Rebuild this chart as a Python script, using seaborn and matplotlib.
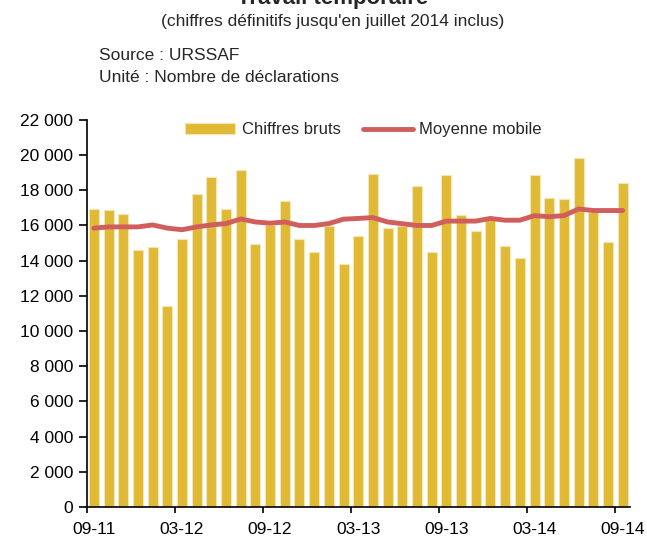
import numpy as np
import pandas as pd
import matplotlib
matplotlib.use('Agg')
import matplotlib.pyplot as plt
import seaborn as sns
from matplotlib.ticker import FuncFormatter, FixedLocator

# monthly data, 09-11 to 09-14
months = list(pd.period_range('2011-09', '2014-09', freq='M').strftime('%m-%y'))
bruts = [16950, 16880, 16680, 14600, 14790, 11450, 15240, 17770, 18770, 16950,
         19130, 14950, 16000, 17410, 15240, 14520, 15950, 13790, 15410, 18950,
         15880, 15950, 18220, 14500, 18860, 16600, 15700, 16300, 14860, 14150,
         18860, 17580, 17500, 19850, 16750, 15050, 18410]
moyenne = [15850, 15920, 15920, 15920, 16030, 15850, 15760, 15920, 16030, 16110,
           16370, 16200, 16130, 16200, 16000, 16000, 16110, 16360, 16400, 16450,
           16200, 16100, 16000, 16000, 16250, 16250, 16250, 16400, 16300, 16300,
           16560, 16500, 16560, 16940, 16850, 16850, 16850]

df = pd.DataFrame({'idx': range(len(months)), 'mois': months,
                   'bruts': bruts, 'moyenne': moyenne})

sns.set_theme(style='white')
plt.rcParams['font.family'] = ['Liberation Sans', 'DejaVu Sans']

fig = plt.figure(figsize=(6.47, 5.38), dpi=100)
ax = fig.add_axes([0.1337, 0.0576, 0.840, 0.7195])

sns.barplot(data=df, x='idx', y='bruts', color='#E0B935', saturation=1,
            width=0.68, edgecolor='#F4E6B2', linewidth=0.8, ax=ax,
            label='Chiffres bruts')
sns.lineplot(data=df, x='idx', y='moyenne', color='#CF5E5D', linewidth=3.5,
             ax=ax, label='Moyenne mobile')

ax.set_xlim(-0.5, len(months) - 0.5)
ax.set_ylim(0, 22000)
ax.set_yticks(np.arange(0, 22001, 2000))
ax.yaxis.set_major_formatter(FuncFormatter(lambda v, p: f'{int(v):,}'.replace(',', ' ')))

# labels centred on months, ticks between categories
ax.xaxis.set_major_locator(FixedLocator(list(range(0, len(months), 6))))
ax.set_xticklabels(months[::6])
ax.xaxis.set_minor_locator(FixedLocator(list(np.arange(-0.5, len(months), 6))))
ax.tick_params(axis='x', which='major', bottom=True, length=0, pad=11, labelsize=12.5, colors='black')
ax.tick_params(axis='x', which='minor', bottom=True, length=4, width=1.2, color='black')
ax.tick_params(axis='y', left=True, length=5.5, width=1.2, pad=4, labelsize=12.5, colors='black')

ax.set_xlabel('')
ax.set_ylabel('')
for s in ['top', 'right']:
    ax.spines[s].set_visible(False)
for s in ['left', 'bottom']:
    ax.spines[s].set_color('black')
    ax.spines[s].set_linewidth(1.2)

handles, labels = ax.get_legend_handles_labels()
order = [labels.index('Chiffres bruts'), labels.index('Moyenne mobile')]
ax.legend([handles[i] for i in order], [labels[i] for i in order],
          loc='center', bbox_to_anchor=(0.51, 0.974), ncol=2, frameon=False,
          fontsize=12, handlelength=3.0, handleheight=0.6, handletextpad=0.4,
          columnspacing=1.3)

fig.text(0.514, 1 - 4 / 538, 'Travail temporaire', ha='center', va='baseline',
         fontsize=16, fontweight='bold')
fig.text(0.514, 1 - 26 / 538, "(chiffres définitifs jusqu'en juillet 2014 inclus)",
         ha='center', va='baseline', fontsize=12.5)
fig.text(99 / 647, 1 - 60 / 538, 'Source : URSSAF', va='baseline', fontsize=12.5)
fig.text(99 / 647, 1 - 82 / 538, 'Unité : Nombre de déclarations', va='baseline', fontsize=12.5)

fig.savefig('out.png', dpi=100)
